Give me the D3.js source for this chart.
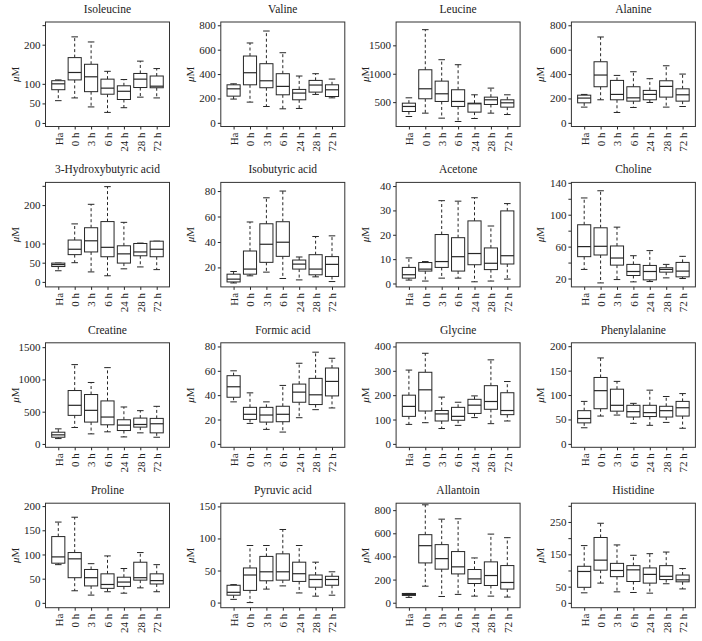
<!DOCTYPE html>
<html>
<head>
<meta charset="utf-8">
<script src="https://cdn.jsdelivr.net/npm/d3@7"></script>
<style>
  html, body { margin: 0; padding: 0; background: #fff; }
  svg { display: block; }
  text { font-family: "Liberation Serif", "DejaVu Serif", serif; fill: #222; }
</style>
</head>
<body>
<svg id="chart" width="702" height="641"></svg>
<script>
// ---- data ----
const groups = ["Ha", "0 h", "3 h", "6 h", "24 h", "28 h", "72 h"];
const metabolites = ["Isoleucine", "Valine", "Leucine", "Alanine",
  "3-Hydroxybutyric acid", "Isobutyric acid", "Acetone", "Choline",
  "Creatine", "Formic acid", "Glycine", "Phenylalanine",
  "Proline", "Pyruvic acid", "Allantoin", "Histidine"];

// each row: [lower whisker, Q1, median, Q3, upper whisker] per group
const isoleucine = [[57,85,100,108,110],[64,110,129,167,220],[41,80,118,150,207],[27,73.5,89,112,132],[39,60,81,95,111],[66,90.6,112,126.5,158],[64,90,94,120,139]];
const valine = [[195,219,279,312,320],[170,312,411,548,655],[134,288,345,485,753],[115,230,299,403,575],[118,189,244,274,384],[233,252,310,348,403],[205,216,271,312,359]];
const leucine = [[247,335,424,482,576],[306,559,735,1070,1776],[218,512,647,870,1247],[159,424,512,718,1159],[212,324,471,482,629],[306,459,541,588,747],[282,412,488,541,629]];
const alanine = [[129,164,203,227,233],[189,296,392,501,704],[85,189,233,348,389],[126,178,205,296,419],[167,189,233,266,362],[129,211,299,345,468],[134,178,230,279,400]];
const hydroxybutyric = [[29,40,45,49,49],[50,71,85,109,151],[26,78,107,141,202],[16,65.5,90,157,248],[34,49,73,94,155],[39,68,78,100,101],[32,65.5,85,106,106]];
const isobutyric = [[7.8,8.6,10.8,14.7,16.8],[13.4,14.7,18.7,32.9,55.7],[16.3,24,38.2,54.3,74.7],[11.3,28.7,39.8,55.9,80],[10.2,18.7,22.6,25.8,28.2],[12.6,14.2,18.7,30,44.3],[8.9,12.9,22.4,28.5,44.8]];
const acetone = [[1.4,2.2,3.6,6.6,10.5],[1,5.1,5.9,8.6,9],[2.2,6.6,9,20.1,34],[2.2,5.1,11,18.8,33.8],[0.7,7.7,12.3,25.7,35.2],[1,5.7,8.3,14.6,23.6],[1.8,8,11.4,29.8,32.8]];
const choline = [[31.4,47.4,60,87.4,121],[14.5,49.5,60.4,83.6,130],[18.7,36.8,45.7,60.8,84.4],[15.8,23.8,28.8,37.7,48.6],[16.2,18.3,28.8,36.4,55],[20.8,28,31.4,33.5,37.7],[20,22.1,29.3,40.2,47.8]];
const creatine = [[83,104,141,182,234],[255,443,599,828,1230],[156,339,521,766,953],[188,297,417,667,1183],[109,208,292,375,573],[172,261,302,401,516],[104,172,313,396,583]];
const formic = [[34.5,38.3,46.9,56,60],[16.8,20.1,24.3,30,41.9],[11.9,17.9,23.7,30,34.5],[9.7,18.2,24.3,30.9,48],[21.5,34.2,42.5,49.1,66.2],[28.1,32.3,40.3,53.8,75.3],[29.5,39.4,51.3,62.3,70.3]];
const glycine = [[80,113,154,200,303],[87,135,222,294,372],[63,94,123,137,192],[76,97,113,150,171],[108,125,159,183,197],[83,142,174,239,345],[94,120,137,210,256]];
const phenylalanine = [[33,43,52,68,87],[57,72,109,136,176],[59,67,79,112,128],[42,55,66,79,83],[38,56,64,79,110],[44,55,68,77,97],[32,57,74,87,103]];
const proline = [[79,82,95,137,167],[25,52,91,104,177],[16,35,52,69,81],[23,30,38,60,97],[20,34,43,53,71],[31,47,52,84,104],[23,39,46,60,79]];
const pyruvic = [[5,11.5,16,27,28],[0,19,43,54,89],[21,34,48,72,89],[26,35,48,76,114],[15,33,45,63,89],[10,24,36,43,63],[11.5,27,36,41,48]];
const allantoin = [[46,63,72,80,80],[143,344,493,588,846],[54,290,381,502,722],[72,249,310,442,725],[57,166,206,287,387],[57,149,235,353,593],[49,118,175,321,562]];
const histidine = [[31,48,97,113,177],[61,101,132,202,246],[34,81,100,122,179],[32,66,102,115,147],[30,61,88,108,152],[59,72,82,115,157],[43,65,71,86,106]];

const seriesStats = [isoleucine, valine, leucine, alanine, hydroxybutyric, isobutyric, acetone, choline,
  creatine, formic, glycine, phenylalanine, proline, pyruvic, allantoin, histidine];

const yDomains = [[-9,258],[-30,827],[71,1911],[-30,827],[-13,259],[4.7,86.8],[-1.4,41.5],[9.5,140.5],
  [-52,1568],[-2.8,83],[-14,415],[-7,207],[-10,206],[-8,155],[-43,860],[-15,308]];
const yTicks = [[0,50,100,200,250],[0,200,400,600,800],[500,1000,1500],[0,200,400,600,800],
  [0,50,100,200,250],[20,40,60,80],[0,10,20,30,40],[20,40,60,80,100,120,140],
  [0,500,1000,1500],[0,20,40,60,80],[0,100,200,300,400],[0,50,100,150,200],
  [0,50,100,150,200],[0,50,100,150],[0,200,400,600,800],[0,50,100,150,200,250,300]];
const yTickLabels = [[0,50,100,200],[0,200,400,600,800],[500,1000,1500],[0,200,400,600,800],
  [0,50,100,200],[20,40,60,80],[0,10,20,30,40],[20,60,100,140],
  [0,500,1000,1500],[0,20,40,60,80],[0,100,200,300,400],[0,50,100,150,200],
  [0,50,100,150,200],[0,50,100,150],[0,200,400,600,800],[0,50,150,250]];

// ---- layout ----
const colStep = 175.3, rowStep = 160.4;
const plotLeft0 = 45.5, plotTop0 = 22;
const plotW = 124, plotH = 104.5;
const ink = "#262626";

const svg = d3.select("#chart");

metabolites.forEach((name, k) => {
  const c = k % 4, r = Math.floor(k / 4);
  const left = plotLeft0 + c * colStep;
  const top = plotTop0 + r * rowStep;
  const g = svg.append("g").attr("transform", `translate(${left},${top})`);

  const x = d3.scaleLinear().domain([0.22, groups.length + 0.78]).range([0, plotW]);
  const y = d3.scaleLinear().domain(yDomains[k]).range([plotH, 0]);
  const step = x(2) - x(1);
  const bw = step * 0.8;
  const cw = bw * 0.5;
  const stats = seriesStats[k];

  // title
  g.append("text")
    .attr("x", plotW / 2).attr("y", -9)
    .attr("text-anchor", "middle")
    .attr("font-size", 11.5)
    .text(name);

  // y label
  g.append("text")
    .attr("transform", `translate(-31,${plotH / 2}) rotate(-90)`)
    .attr("text-anchor", "middle")
    .attr("dominant-baseline", "central")
    .attr("font-size", 11)
    .html('<tspan font-style="italic">μ</tspan>M');

  // y axis
  const labs = yTickLabels[k];
  const ya = g.append("g").call(
    d3.axisLeft(y).tickValues(yTicks[k]).tickSize(3).tickPadding(2)
      .tickFormat(d => labs.includes(d) ? String(d) : ""));
  ya.select(".domain").remove();
  ya.selectAll("line").attr("stroke", ink);
  ya.selectAll("text").attr("font-size", 11).attr("fill", ink)
    .style("font-family", '"Liberation Serif", serif');

  // x axis
  const xa = g.append("g").attr("transform", `translate(0,${plotH})`).call(
    d3.axisBottom(x).tickValues(d3.range(1, groups.length + 1)).tickSize(3)
      .tickFormat(i => groups[i - 1]));
  xa.select(".domain").remove();
  xa.selectAll("line").attr("stroke", ink);
  xa.selectAll("text")
    .attr("font-size", 11).attr("fill", ink)
    .style("font-family", '"Liberation Serif", serif')
    .attr("transform", "rotate(-90)")
    .attr("x", -6).attr("y", 0).attr("dy", "0.35em")
    .attr("text-anchor", "end");

  // boxes
  const bx = g.selectAll("g.box").data(stats).enter().append("g").attr("class", "box");
  bx.each(function (s, i) {
    const gg = d3.select(this);
    const cx = x(i + 1);
    // whiskers
    gg.append("line").attr("x1", cx).attr("x2", cx).attr("y1", y(s[3])).attr("y2", y(s[4]))
      .attr("stroke", ink).attr("stroke-dasharray", "3,2.5");
    gg.append("line").attr("x1", cx).attr("x2", cx).attr("y1", y(s[1])).attr("y2", y(s[0]))
      .attr("stroke", ink).attr("stroke-dasharray", "3,2.5");
    // caps
    gg.append("line").attr("x1", cx - cw / 2).attr("x2", cx + cw / 2).attr("y1", y(s[4])).attr("y2", y(s[4]))
      .attr("stroke", ink);
    gg.append("line").attr("x1", cx - cw / 2).attr("x2", cx + cw / 2).attr("y1", y(s[0])).attr("y2", y(s[0]))
      .attr("stroke", ink);
    // box
    gg.append("rect").attr("x", cx - bw / 2).attr("width", bw)
      .attr("y", y(s[3])).attr("height", Math.max(0.5, y(s[1]) - y(s[3])))
      .attr("fill", "#fff").attr("stroke", ink);
    // median
    gg.append("line").attr("x1", cx - bw / 2).attr("x2", cx + bw / 2).attr("y1", y(s[2])).attr("y2", y(s[2]))
      .attr("stroke", ink).attr("stroke-width", 1.2);
  });

  // frame
  g.append("rect").attr("x", 0).attr("y", 0).attr("width", plotW).attr("height", plotH)
    .attr("fill", "none").attr("stroke", "#333").attr("stroke-width", 1);
});
</script>
</body>
</html>
